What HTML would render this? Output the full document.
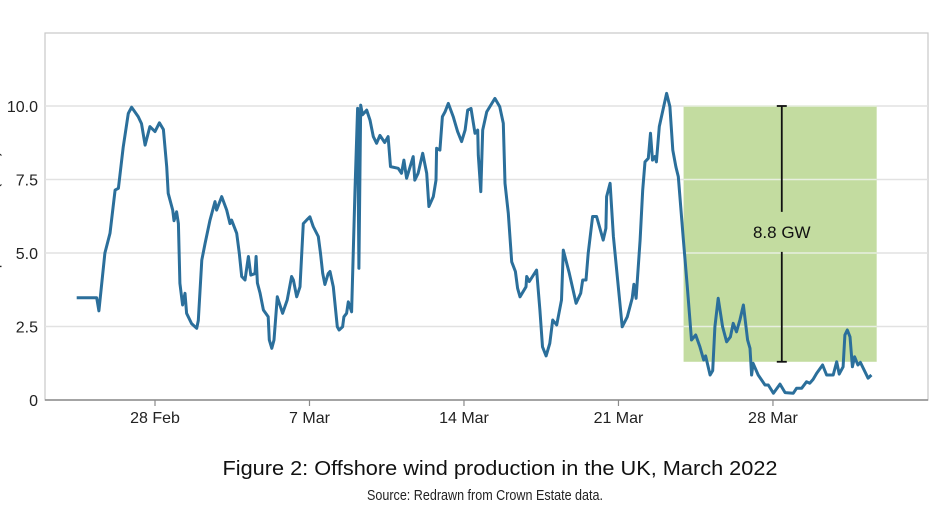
<!DOCTYPE html>
<html><head><meta charset="utf-8"><style>
html,body{margin:0;padding:0;background:#fff;}
svg{display:block;font-family:"Liberation Sans",sans-serif;}
</style></head><body>
<svg id="chart" width="940" height="515" viewBox="0 0 940 515">
  <rect x="45" y="33" width="883" height="367" fill="#fff" stroke="#c8c8c8" stroke-width="1.2"/>
  <g id="grid"></g>
  <rect id="band" fill="#c3dca0"/>
  <g id="gridOver"></g>
  <g id="errbar"></g>
  <path id="line" fill="none" stroke="#2b6f9b" stroke-width="3" stroke-linejoin="round"/>
  <line x1="45" y1="400" x2="928" y2="400" stroke="#8a8a8a" stroke-width="1.5"/>
  <g id="yticks" font-size="16" fill="#222" text-anchor="end"></g>
  <g id="xticks" font-size="16" fill="#222" text-anchor="middle"></g>
  <text x="-2" y="230" transform="rotate(-90 -2 230)" font-size="16" fill="#222" text-anchor="middle">Wind production (GW)</text>
  <text x="500" y="475" font-size="20" fill="#111" text-anchor="middle" textLength="555" lengthAdjust="spacingAndGlyphs">Figure 2: Offshore wind production in the UK, March 2022</text>
  <text x="485" y="500" font-size="15" fill="#222" text-anchor="middle" textLength="236" lengthAdjust="spacingAndGlyphs">Source: Redrawn from Crown Estate data.</text>
</svg>
<script>
// days relative to 28 Feb
const days = [-3.55,-2.64,-2.54,-2.27,-2.04,-1.81,-1.66,-1.44,-1.21,-1.06,-0.76,-0.61,-0.45,-0.23,0,0.2,0.38,0.53,0.6,0.8,0.86,0.98,1.06,1.13,1.25,1.36,1.43,1.66,1.89,1.96,2.12,2.27,2.49,2.72,2.79,3.02,3.25,3.4,3.47,3.7,3.82,3.93,4.08,4.23,4.34,4.53,4.58,4.64,4.76,4.91,5.13,5.18,5.29,5.39,5.54,5.78,5.99,6.19,6.27,6.42,6.57,6.72,6.87,7.02,7.17,7.4,7.5,7.6,7.7,7.85,7.93,8.08,8.26,8.34,8.5,8.56,8.68,8.76,8.91,9.06,9.18,9.24,9.32,9.4,9.59,9.74,9.89,10.04,10.19,10.41,10.56,10.67,11.02,11.17,11.28,11.4,11.7,11.77,11.92,12.13,12.31,12.41,12.61,12.73,12.76,12.91,13.02,13.14,13.29,13.51,13.71,13.89,14.05,14.17,14.32,14.5,14.62,14.65,14.76,14.85,15.03,15.4,15.62,15.78,15.86,16.01,16.16,16.33,16.43,16.54,16.81,16.84,16.96,17.29,17.44,17.56,17.72,17.89,18.02,18.2,18.42,18.5,18.77,19.08,19.29,19.38,19.53,19.63,19.83,20.01,20.31,20.43,20.46,20.62,20.77,21.17,21.4,21.62,21.7,21.8,21.98,22.1,22.2,22.35,22.45,22.54,22.65,22.72,22.85,23.05,23.18,23.33,23.46,23.6,23.71,23.94,24.12,24.31,24.5,24.69,24.86,24.95,25.15,25.27,25.37,25.52,25.72,25.9,26.07,26.2,26.35,26.5,26.66,26.85,26.96,27.03,27.1,27.33,27.64,27.79,28.02,28.32,28.55,28.92,29.07,29.3,29.52,29.67,29.82,29.98,30.25,30.43,30.73,30.89,31.0,31.18,31.26,31.37,31.49,31.6,31.7,31.85,31.96,32.31,32.46];
const gw = [3.48,3.48,3.03,5.0,5.67,7.14,7.2,8.6,9.75,9.96,9.64,9.4,8.67,9.3,9.13,9.43,9.2,7.94,7.03,6.46,6.1,6.4,6.0,3.97,3.23,3.63,2.95,2.6,2.44,2.7,4.76,5.33,6.12,6.75,6.46,6.92,6.46,6.0,6.12,5.67,4.99,4.2,4.08,4.88,4.25,4.3,4.88,3.98,3.63,3.06,2.83,2.04,1.76,2.04,3.51,2.95,3.4,4.2,4.08,3.51,3.85,6.0,6.12,6.23,5.9,5.56,4.99,4.31,3.93,4.3,4.37,3.85,2.49,2.38,2.49,2.83,2.95,3.34,3.0,7.14,9.92,4.48,10.03,9.7,9.86,9.52,8.96,8.73,9.0,8.76,8.96,7.94,7.88,7.71,8.16,7.54,8.28,7.48,7.71,8.39,7.71,6.58,6.92,7.48,8.56,8.5,9.64,9.8,10.09,9.64,9.13,8.79,9.18,9.86,9.92,9.07,9.18,8.33,7.09,9.18,9.8,10.26,9.98,9.41,7.37,6.35,4.7,4.37,3.8,3.51,3.85,4.2,4.03,4.42,3.06,1.81,1.5,1.93,2.72,2.55,3.4,5.1,4.31,3.29,3.63,4.08,4.08,4.99,6.24,6.24,5.44,5.84,6.92,7.37,5.56,2.49,2.83,3.46,3.94,3.46,5.44,7.14,8.1,8.22,9.07,8.16,8.28,8.1,9.3,9.98,10.43,9.98,8.5,7.93,7.6,5.44,3.85,2.04,2.21,1.81,1.36,1.5,0.85,1.0,2.49,3.46,2.49,1.98,2.15,2.61,2.32,2.72,3.23,2.04,1.76,0.85,1.25,0.85,0.51,0.51,0.23,0.54,0.25,0.23,0.4,0.4,0.62,0.57,0.7,0.91,1.19,0.85,0.85,1.3,0.88,1.13,2.21,2.38,2.15,1.13,1.47,1.19,1.28,0.74,0.85];
const yTicks = [0,2.5,5,7.5,10];
const yTickLabels = ["0","2.5","5.0","7.5","10.0"];
const xTickDays = [0,7,14,21,28];
const xTickLabels = ["28 Feb","7 Mar","14 Mar","21 Mar","28 Mar"];
const bandStartDay = 23.95, bandEndDay = 32.7;
const bandLow = 1.3, bandHigh = 10.0;
const annotationDay = 28.4;
const annotationLabel = "8.8 GW";

const NS = "http://www.w3.org/2000/svg";
const X = d => 155 + d * 22.07;
const Y = v => 400 - v * 29.4;
function mk(tag, attrs, parent){ const e=document.createElementNS(NS,tag); for(const k in attrs) e.setAttribute(k,attrs[k]); parent.appendChild(e); return e; }

const grid = document.getElementById('grid');
const gridOver = document.getElementById('gridOver');
yTicks.forEach((v,i)=>{
  if(v>0){
    const g = mk('line',{x1:45,x2:928,y1:Y(v),y2:Y(v),stroke:'#e2e2e2','stroke-width':1.5},grid);
    
    
    const g2 = mk('line',{x1:X(bandStartDay),x2:X(bandEndDay),y1:Y(v),y2:Y(v),stroke:'#e8efe0','stroke-width':1.5},gridOver);
    
    
  }
  const t = mk('text',{x:38,y:Y(v)+6},document.getElementById('yticks'));
  t.textContent = yTickLabels[i];
  
  
});
xTickDays.forEach((d,i)=>{
  const tk = mk('line',{x1:X(d),x2:X(d),y1:400,y2:406,stroke:'#8a8a8a','stroke-width':1.2},document.getElementById('xticks'));
  
  
  const t = mk('text',{x:X(d),y:423},document.getElementById('xticks'));
  t.textContent = xTickLabels[i];
  
  
});
const band = document.getElementById('band');
band.setAttribute('x',X(bandStartDay)); band.setAttribute('width',X(bandEndDay)-X(bandStartDay));
band.setAttribute('y',Y(bandHigh)); band.setAttribute('height',Y(bandLow)-Y(bandHigh));

const eb = document.getElementById('errbar');
const ax = X(annotationDay), mid = (Y(bandHigh)+Y(bandLow))/2;
mk('line',{x1:ax,x2:ax,y1:Y(bandHigh),y2:mid-22,stroke:'#111','stroke-width':1.8},eb);
mk('line',{x1:ax,x2:ax,y1:mid+18,y2:Y(bandLow),stroke:'#111','stroke-width':1.8},eb);
mk('line',{x1:ax-5,x2:ax+5,y1:Y(bandHigh),y2:Y(bandHigh),stroke:'#111','stroke-width':1.8},eb);
mk('line',{x1:ax-5,x2:ax+5,y1:Y(bandLow),y2:Y(bandLow),stroke:'#111','stroke-width':1.8},eb);
const lbl = mk('text',{x:ax,y:mid+4,'font-size':17,'text-anchor':'middle',fill:'#111'},eb);
lbl.textContent = annotationLabel;



document.getElementById('line').setAttribute('d', days.map((d,i)=>(i?'L':'M')+X(d).toFixed(1)+' '+Y(gw[i]).toFixed(1)).join(' '));
</script>
</body></html>
